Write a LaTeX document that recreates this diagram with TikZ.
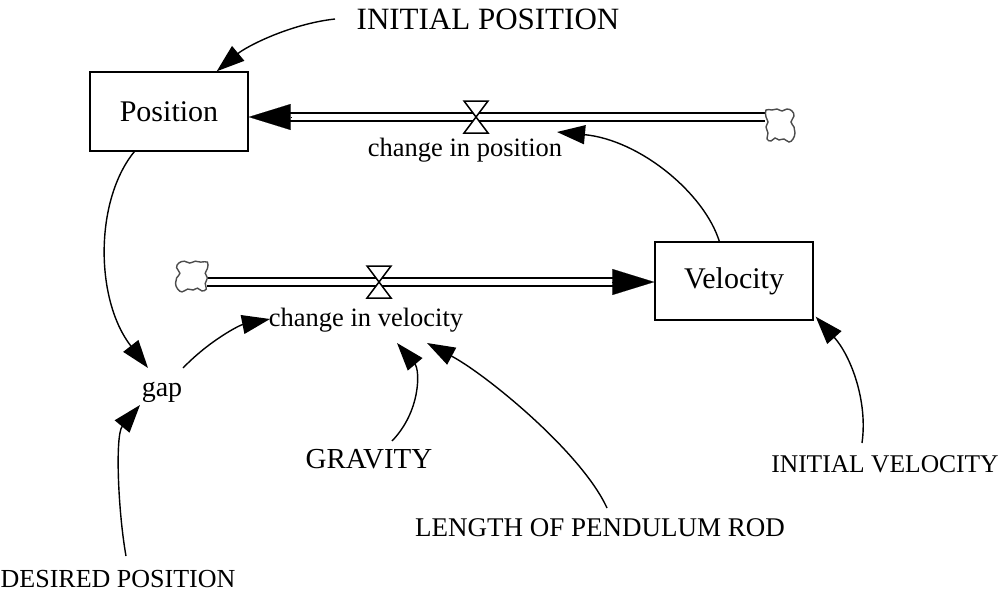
\documentclass[tikz,border=0pt]{standalone}
\usepackage{fontspec}
\setmainfont{Liberation Serif}
\usetikzlibrary{arrows.meta,calc}
\newcommand\mycloudshape{plot[smooth cycle, tension=0.7] coordinates {
 (-14,-16) (-8,-16) (-3,-17) (2,-15) (7,-17) (12,-15) (14,-10) (11,-4) (14,1) (15,7) (13,13)
 (9,16) (4,13) (-1,14) (-5,12) (-9,15) (-13,13) (-12,7) (-14,1) (-12,-4) (-14,-9)}}
\begin{document}
\begin{tikzpicture}[x=1pt,y=-1pt,
  every node/.style={font=\fontsize{26.5}{30}\selectfont},
  lbl/.style={inner sep=0pt, text height=18pt, text depth=6pt},
  stock/.style={draw, line width=1.4pt, minimum width=158pt, minimum height=79pt, inner sep=0pt,
                font=\fontsize{30}{34}\selectfont},
  conn/.style={line width=1.4pt, -{Triangle[length=28pt,width=19pt]}},
  pipe/.style={draw, line width=2pt, double=white, double distance=5.5pt},
  head/.style={line width=0.1pt, -{Triangle[length=42pt,width=26pt]}},
  valvetri/.style={draw, fill=white, line width=1.5pt, line join=miter},
  cloudline/.style={draw=black!70, line width=1.4pt, fill=white},
  cloudnode/.style={minimum width=30pt, minimum height=34pt, inner sep=0pt}
]
\useasboundingbox (0,0) rectangle (999,602);

% stocks
\node[stock] (pos) at (169,111.5) {Position};
\node[stock, minimum height=78pt] (vel) at (734,281) {Velocity};

% valves and clouds
\coordinate (v1) at (476,117);
\coordinate (v2) at (379,282);
\node[cloudnode] (cl1) at (780,126) {};
\node[cloudnode] (cl2) at (192,277) {};

% flow pipes
\path[pipe] (cl1.west |- v1) -- ($(pos.east |- v1)+(40,0)$);
\draw[head] ($(pos.east |- v1)+(42,0)$) -- (pos.east |- v1);
\path[pipe] (cl2.east |- v2) -- ($(vel.west |- v2)+(-40,0)$);
\draw[head] ($(vel.west |- v2)+(-42,0)$) -- (vel.west |- v2);

% valves
\draw[valvetri] ($(v1)+(-12,-16)$) -- ($(v1)+(12,-16)$) -- (v1) -- cycle;
\draw[valvetri] ($(v1)+(-12,16)$) -- ($(v1)+(12,16)$) -- (v1) -- cycle;
\draw[valvetri] ($(v2)+(-12,-16)$) -- ($(v2)+(12,-16)$) -- (v2) -- cycle;
\draw[valvetri] ($(v2)+(-12,16)$) -- ($(v2)+(12,16)$) -- (v2) -- cycle;

% clouds
\begin{scope}[shift={(cl1)}]
\draw[cloudline] \mycloudshape;
\end{scope}
\begin{scope}[shift={(cl2)}, xscale=-1.1, yscale=0.93]
\draw[cloudline] \mycloudshape;
\end{scope}

% labels
\node[lbl, font=\fontsize{31}{34}\selectfont] (ip) at (488,24) {INITIAL POSITION};
\node[lbl] (cp) at (465,150) {change in position};
\node[lbl] (cv) at (366,320) {change in velocity};
\node[lbl, font=\fontsize{28}{32}\selectfont] (gap) at (162,390) {gap};
\node[lbl, font=\fontsize{29}{32}\selectfont] (grav) at (369,462) {GRAVITY};
\node[lbl, font=\fontsize{27}{30}\selectfont] (len) at (600,530) {LENGTH OF PENDULUM ROD};
\node[lbl, font=\fontsize{25.5}{28}\selectfont] (iv) at (885,466) {INITIAL VELOCITY};
\node[lbl, font=\fontsize{26}{30}\selectfont] (dp) at (118,581) {DESIRED POSITION};

% connectors
\draw[conn] ($(ip)+(-153,-5)$) .. controls +(-45,5) and +(30,-25) .. ($(pos.north east)+(-32,0)$);
\draw[conn] ($(vel.north west)+(65,0)$) .. controls +(-15,-48) and +(83,8) .. ($(cp)+(92,-18)$);
\draw[conn] ($(pos.south west)+(45,0)$) .. controls +(-40,49) and +(-53,-68) .. ($(gap)+(-14,-22)$);
\draw[conn] ($(gap)+(21,-22)$) .. controls +(27,-28) and +(-30,6) .. ($(cv)+(-96,-1)$);
\draw[conn] ($(grav)+(23,-21)$) .. controls +(29,-30) and +(23,27) .. ($(cv)+(31,23)$);
\draw[conn] ($(len)+(7,-22)$) .. controls +(-25,-55) and +(60,32) .. ($(cv)+(61,23)$);
\draw[conn] ($(iv)+(-23,-23)$) .. controls +(6,-42) and +(35,39) .. ($(vel.south east)+(2,-4)$);
\draw[conn] ($(dp)+(8,-25)$) .. controls +(-8,-45) and +(-25,30) .. ($(gap)+(-22,15)$);
\end{tikzpicture}
\end{document}
